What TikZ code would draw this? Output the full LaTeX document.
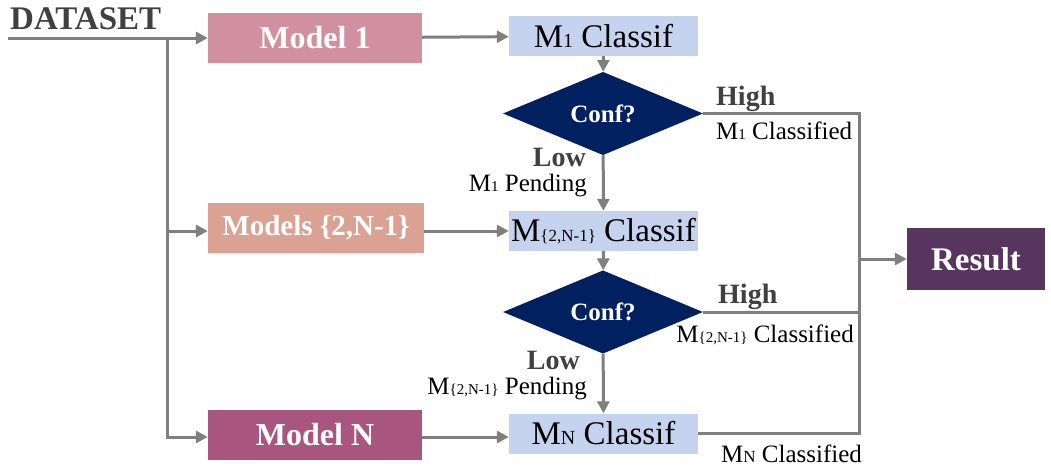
\documentclass[tikz,border=0pt]{standalone}
\usepackage{fontspec}
\setmainfont{Liberation Serif}
\usetikzlibrary{arrows.meta,shapes.geometric}
\definecolor{lgray}{HTML}{7F7F7F}
\definecolor{dgray}{HTML}{404040}
\definecolor{mone}{HTML}{D0909F}
\definecolor{mtwo}{HTML}{DBA293}
\definecolor{mN}{HTML}{A8567F}
\definecolor{clsblue}{HTML}{C5D3EE}
\definecolor{navy}{HTML}{002060}
\definecolor{resc}{HTML}{57355F}
\newcommand\smtx[2]{{\fontsize{#1}{#1}\selectfont #2}}
\tikzset{
  modelbox/.style={fill=#1, minimum width=214pt, minimum height=50pt, inner sep=0pt,
    text=white, font=\bfseries\fontsize{32}{34}\selectfont},
  clsbox/.style={fill=clsblue, minimum width=189pt, minimum height=40pt, inner sep=0pt,
    text=black, font=\fontsize{33}{35}\selectfont},
  decbox/.style={diamond, fill=navy, minimum width=200pt, minimum height=61pt, inner sep=0pt,
    text=white, font=\bfseries\fontsize{25}{27}\selectfont},
  resbox/.style={fill=resc, minimum width=138pt, minimum height=62pt, inner sep=0pt,
    text=white, font=\bfseries\fontsize{33}{35}\selectfont},
  conn/.style={draw=lgray, line width=3pt},
  arr/.style={conn, -{Triangle[length=12pt,width=12pt]}},
  hilab/.style={inner sep=0pt, text=dgray, font=\bfseries\fontsize{28}{30}\selectfont},
  smlab/.style={inner sep=0pt, text=black, font=\fontsize{25}{27}\selectfont},
}
\begin{document}
\begin{tikzpicture}[x=1pt,y=-1pt]
\useasboundingbox (0,0) rectangle (1051,469);
% nodes
\node[inner sep=0pt, anchor=base west, text=dgray, font=\bfseries\fontsize{33}{35}\selectfont] (ds) at (10,29) {DATASET};
\coordinate (start) at (8,38);
\coordinate (split) at (167,38);
\node[modelbox=mone] (m1) at (315,38) {Model 1};
\node[modelbox=mtwo, font=\bfseries\fontsize{29}{31}\selectfont, minimum width=216pt] (m2) at (316,228) {Models \{2,N-1\}};
\node[modelbox=mN] (mn) at (315,435) {Model N};
\node[clsbox] (c1) at (603.5,36) {M\smtx{20}{1} Classif};
\node[clsbox] (c2) at (603.5,231) {M\smtx{17}{\{2,N-1\}} Classif};
\node[clsbox] (cn) at (603.5,433.5) {M\smtx{20}{N} Classif};
\node[decbox] (d1) at (603,113.5) {Conf?};
\node[decbox] (d2) at (603,312) {Conf?};
\node[resbox] (res) at (976,259) {Result};
\coordinate (j1) at (859,113.5);
\coordinate (j2) at (859,312);
\coordinate (jr) at (859,259);
\coordinate (jn) at (859,433.5);
% connectors
\draw[conn] (start) -- (split);
\draw[arr] (split) -- (m1);
\draw[arr] (split) |- (m2.west |- c2);
\draw[arr] (split) |- (mn.west |- 0,437);
\draw[arr] (m1) -- (c1);
\draw[arr] (m2.east |- c2) -- (c2);
\draw[arr] (mn.east |- 0,437) -- (cn.west |- 0,437);
\draw[arr] (c1) -- (d1);
\draw[arr] (d1) -- (c2);
\draw[arr] (c2) -- (d2);
\draw[arr] (d2) -- (cn);
\draw[conn] (d1.east) -- (j1) -- (jn) -- (cn.east);
\draw[conn] (d2.east) -- (j2);
\draw[arr] (jr) -- (res);
% labels
\node[hilab, anchor=base west] (h1) at (716,105) {High};
\node[smlab, anchor=base west] (l1c) at (716,139) {M\smtx{15}{1} Classified};
\node[hilab, anchor=base east] (lo1) at (586,166) {Low};
\node[smlab, anchor=base east] (p1) at (587,191) {M\smtx{15}{1} Pending};
\node[hilab, anchor=base west] (h2) at (718,303) {High};
\node[smlab, anchor=base east] (l2c) at (854,342) {M\smtx{15}{\{2,N-1\}} Classified};
\node[hilab, anchor=base east] (lo2) at (580,369) {Low};
\node[smlab, anchor=base east] (p2) at (587,394) {M\smtx{15}{\{2,N-1\}} Pending};
\node[smlab, anchor=base west] (lnc) at (721,462) {M\smtx{17}{N} Classified};
\end{tikzpicture}
\end{document}
